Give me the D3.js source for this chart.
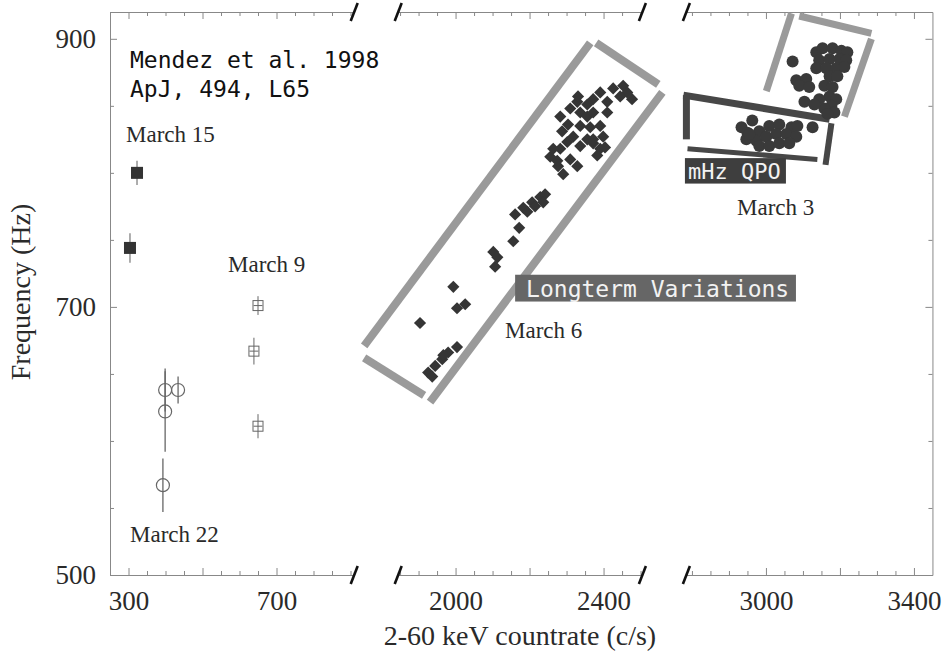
<!DOCTYPE html>
<html>
<head>
<meta charset="utf-8">
<script src="https://cdn.jsdelivr.net/npm/d3@7"></script>
<style>
  body { margin: 0; background: #fff; }
  svg { display: block; }
</style>
</head>
<body>
<script>
const WIDTH_SVG = 952;
const HEIGHT_SVG = 654;

// ---- data ----
// [countrate (c/s), frequency (Hz), freq error (Hz)]
const march15 = [[323, 800, 9], [304, 744, 11]];
const march22 = [[399, 638, 16], [399, 622, 30], [434, 638, 10], [393, 567, 20]];
// [countrate, frequency, freq error, rate error]
const march9 = [[650, 701, 7, 12], [639, 667, 10, 12], [650, 611, 9, 12]];

// [countrate, frequency]
const march6 = [
    [1904, 688], [1994, 715], [2004, 699], [2026, 702], [1926, 651], [1945, 656],
    [1964, 661], [1980, 666], [2004, 670], [1937, 648], [1967, 664], [2107, 730],
    [2102, 741], [2113, 737], [2156, 749], [2172, 759], [2161, 769], [2183, 774],
    [2207, 778], [2229, 782], [2242, 784], [2194, 771], [2215, 775], [2237, 778],
    [2256, 812], [2277, 805], [2291, 799], [2310, 810], [2329, 805], [2283, 818],
    [2302, 823], [2318, 827], [2337, 820], [2356, 825], [2372, 822], [2391, 818],
    [2383, 813], [2372, 825], [2288, 831], [2304, 836], [2283, 842], [2310, 848],
    [2329, 853], [2337, 845], [2356, 842], [2372, 855], [2391, 860], [2410, 853],
    [2410, 845], [2426, 863], [2453, 865], [2464, 860], [2477, 855], [2445, 857],
    [2337, 835], [2364, 834], [2391, 835], [2399, 827], [2331, 857], [2356, 851],
    [2372, 845], [2404, 819], [2264, 818], [2275, 809]
];

const march3 = [
    [3072, 883], [3126, 834], [3136, 890], [3153, 893], [3180, 893], [3204, 891],
    [3220, 890], [3144, 884], [3172, 885], [3199, 885], [3217, 884], [3136, 878],
    [3163, 878], [3190, 878], [3212, 879], [3172, 872], [3193, 872], [3082, 869],
    [3109, 870], [3090, 865], [3117, 864], [3158, 865], [3180, 864], [3172, 857],
    [3190, 855], [3177, 850], [3158, 848], [3185, 845], [3144, 855], [3166, 844],
    [3104, 853], [3131, 851],
    [2934, 834], [2963, 839], [2950, 830], [2982, 831], [3009, 835], [3036, 836],
    [3069, 834], [3085, 835], [2947, 825], [2974, 824], [3001, 827], [3028, 829],
    [3055, 829], [3082, 827], [2982, 820], [3009, 820], [3036, 822], [3063, 822],
    [2955, 829]
];

// broken x axis
const segDomains = [[250, 910], [1845, 2505], [2785, 3450]];
const segMajor = [[300, 500, 700], [2000, 2200, 2400], [3000, 3200, 3400]];
const segLabels = [[300, 700], [2000, 2400], [3000, 3400]];
const freqDomain = [500, 920];
const freqMajor = [500, 700, 900];

// annotation frames: [segment, [[rate, freq], [rate, freq]]]
const longtermFrame = [
    [1, [[1753, 671], [2364, 897]]],
    [1, [[2380, 897], [2548, 866]]],
    [1, [[2559, 860], [1931, 629]]],
    [1, [[1753, 662], [1915, 634]]]
];
const qpoUpperFrame = [
    [2, [[3069, 919], [3001, 861]]],
    [2, [[3090, 917], [3285, 904]]],
    [2, [[3285, 900], [3212, 842]]]
];
const qpoLowerFrame = [
    [2, [[2777, 858], [3172, 840]]],
    [2, [[2785, 858], [2785, 825]]],
    [2, [[3177, 837], [3161, 806]]],
    [2, [[2788, 818], [3139, 810]]]
];
// [segment, rate0, rate1, freq0, freq1, text]
const tagBoxes = [
    [1, 2161, 2920, 724, 704, "Longterm Variations"],
    [2, 2781, 3054, 811, 792, "mHz QPO"]
];

// ---- layout ----
const PLOT_LEFT = 110;
const PLOT_TOP = 12;
const PLOT_BOTTOM = 575;
const PX_PER_UNIT = 0.37;
const SEG_GAP = 44;
const AXIS_COLOR = "#888";
const TEXT_COLOR = "#2a2a2a";
const SERIF = "'Liberation Serif', 'Times New Roman', serif";
const MONO = "'DejaVu Sans Mono', monospace";

const svg = d3.select("body")
    .append("svg")
        .attr("width", WIDTH_SVG)
        .attr("height", HEIGHT_SVG)
        .attr("viewBox", `0 0 ${WIDTH_SVG} ${HEIGHT_SVG}`);

let xStart = PLOT_LEFT;
const xScales = segDomains.map(dom => {
    const w = (dom[1] - dom[0]) * PX_PER_UNIT;
    const s = d3.scaleLinear().domain(dom).range([xStart, xStart + w]);
    xStart += w + SEG_GAP;
    return s;
});
const PLOT_RIGHT = xScales[2].range()[1];

const y = d3.scaleLinear().domain(freqDomain).range([PLOT_BOTTOM, PLOT_TOP]);

function minorTicks(dom) {
    return d3.range(Math.ceil(dom[0] / 50) * 50, dom[1], 50);
}

function styleAxis(g) {
    g.selectAll("path, line").attr("stroke", AXIS_COLOR).attr("stroke-width", 1);
    g.attr("font-family", SERIF).attr("font-size", 27);
    g.selectAll("text").attr("fill", TEXT_COLOR);
}

// ---- x axes (bottom + top per segment) ----
xScales.forEach((sx, i) => {
    const dom = segDomains[i];
    const minor = minorTicks(dom).filter(v => !segMajor[i].includes(v));

    [[d3.axisBottom, PLOT_BOTTOM], [d3.axisTop, PLOT_TOP]].forEach(([axisFn, yPos]) => {
        svg.append("g")
            .attr("transform", `translate(0,${yPos})`)
            .call(axisFn(sx).tickValues(minor).tickSize(-4).tickSizeOuter(0).tickFormat(""))
            .call(styleAxis);
        svg.append("g")
            .attr("transform", `translate(0,${yPos})`)
            .call(axisFn(sx).tickValues(segMajor[i]).tickSize(-7).tickSizeOuter(0).tickFormat(""))
            .call(g => g.select(".domain").remove())
            .call(styleAxis);
    });

    svg.append("g")
        .attr("transform", `translate(0,${PLOT_BOTTOM})`)
        .call(d3.axisBottom(sx).tickValues(segLabels[i]).tickSize(0).tickPadding(16).tickFormat(d3.format("d")))
        .call(g => g.select(".domain").remove())
        .call(styleAxis);
});

// ---- y axes ----
const yMinor = d3.range(550, 920, 50).filter(v => !freqMajor.includes(v));
[[d3.axisLeft, PLOT_LEFT], [d3.axisRight, PLOT_RIGHT]].forEach(([axisFn, xPos]) => {
    svg.append("g")
        .attr("transform", `translate(${xPos},0)`)
        .call(axisFn(y).tickValues(yMinor).tickSize(-4).tickSizeOuter(0).tickFormat(""))
        .call(styleAxis);
    svg.append("g")
        .attr("transform", `translate(${xPos},0)`)
        .call(axisFn(y).tickValues(freqMajor).tickSize(-7).tickSizeOuter(0).tickFormat(""))
        .call(g => g.select(".domain").remove())
        .call(styleAxis);
});
svg.append("g")
    .attr("transform", `translate(${PLOT_LEFT},0)`)
    .call(d3.axisLeft(y).tickValues(freqMajor).tickSize(0).tickPadding(14).tickFormat(d3.format("d")))
    .call(g => g.select(".domain").remove())
    .call(styleAxis);

// break marks
xScales.forEach((sx, i) => {
    const ends = [];
    if (i > 0) ends.push(sx.range()[0]);
    if (i < xScales.length - 1) ends.push(sx.range()[1]);
    ends.forEach(xb => {
        [PLOT_TOP, PLOT_BOTTOM].forEach(yb => {
            svg.append("line")
                .attr("x1", xb - 3.5).attr("y1", yb + 9)
                .attr("x2", xb + 3.5).attr("y2", yb - 9)
                .attr("stroke", "#111")
                .attr("stroke-width", 2.6);
        });
    });
});

// ---- annotation frames ----
function drawFrame(frame, color, widths) {
    frame.forEach((d, k) => {
        const sx = xScales[d[0]];
        svg.append("line")
            .attr("x1", sx(d[1][0][0])).attr("y1", y(d[1][0][1]))
            .attr("x2", sx(d[1][1][0])).attr("y2", y(d[1][1][1]))
            .attr("stroke", color)
            .attr("stroke-width", widths[k]);
    });
}
drawFrame(longtermFrame, "#9a9a9a", [8, 8, 8, 8]);
drawFrame(qpoUpperFrame, "#9a9a9a", [7, 7, 7]);
drawFrame(qpoLowerFrame, "#474747", [7, 7, 6, 5]);

// ---- data marks ----
const s1 = xScales[0], s2 = xScales[1], s3 = xScales[2];

// March 15: filled squares
svg.selectAll(".m15err").data(march15).enter().append("line")
    .attr("x1", d => s1(d[0])).attr("x2", d => s1(d[0]))
    .attr("y1", d => y(d[1] - d[2])).attr("y2", d => y(d[1] + d[2]))
    .attr("stroke", "#777").attr("stroke-width", 1.2);
svg.selectAll(".m15").data(march15).enter().append("rect")
    .attr("x", d => s1(d[0]) - 6).attr("y", d => y(d[1]) - 6)
    .attr("width", 12).attr("height", 12)
    .attr("fill", "#333");

// March 9: open squares with error cross
svg.selectAll(".m9").data(march9).enter().append("rect")
    .attr("x", d => s1(d[0]) - 5).attr("y", d => y(d[1]) - 5)
    .attr("width", 10).attr("height", 10)
    .attr("fill", "#fff").attr("stroke", "#666").attr("stroke-width", 1);
svg.selectAll(".m9err").data(march9).enter().append("line")
    .attr("x1", d => s1(d[0])).attr("x2", d => s1(d[0]))
    .attr("y1", d => y(d[1] - d[2])).attr("y2", d => y(d[1] + d[2]))
    .attr("stroke", "#666").attr("stroke-width", 1);
svg.selectAll(".m9xerr").data(march9).enter().append("line")
    .attr("x1", d => s1(d[0] - d[3])).attr("x2", d => s1(d[0] + d[3]))
    .attr("y1", d => y(d[1])).attr("y2", d => y(d[1]))
    .attr("stroke", "#666").attr("stroke-width", 1);

// March 22: open circles
svg.selectAll(".m22err").data(march22).enter().append("line")
    .attr("x1", d => s1(d[0])).attr("x2", d => s1(d[0]))
    .attr("y1", d => y(d[1] - d[2])).attr("y2", d => y(d[1] + d[2]))
    .attr("stroke", "#666").attr("stroke-width", 1.3);
svg.selectAll(".m22").data(march22).enter().append("circle")
    .attr("cx", d => s1(d[0])).attr("cy", d => y(d[1]))
    .attr("r", 6.5)
    .attr("fill", "none").attr("stroke", "#666").attr("stroke-width", 1.2);

// March 6: filled diamonds
const diamond = d3.symbol().type(d3.symbolSquare).size(74)();
svg.selectAll(".m6").data(march6).enter().append("path")
    .attr("d", diamond)
    .attr("transform", d => `translate(${s2(d[0])},${y(d[1])}) rotate(45)`)
    .attr("fill", "#353535");

// March 3: filled circles
svg.selectAll(".m3").data(march3).enter().append("circle")
    .attr("cx", d => s3(d[0])).attr("cy", d => y(d[1]))
    .attr("r", 6)
    .attr("fill", "#3a3a3a");

// ---- tag boxes ----
tagBoxes.forEach(d => {
    const sx = xScales[d[0]];
    const x0 = sx(d[1]), x1 = sx(d[2]), y0 = y(d[3]), y1 = y(d[4]);
    svg.append("rect")
        .attr("x", x0).attr("y", y0)
        .attr("width", x1 - x0).attr("height", y1 - y0)
        .attr("fill", d[5] === "mHz QPO" ? "#3e3e3e" : "#666");
    svg.append("text")
        .attr("x", x0 + (d[5] === "mHz QPO" ? 3 : 11))
        .attr("y", y1 - 5)
        .attr("font-family", MONO)
        .attr("font-size", d[5] === "mHz QPO" ? 22 : 23)
        .attr("fill", "#f2f2f2")
        .text(d[5]);
});

// ---- text labels ----
function label(txt, x, yPos, size, family, color) {
    svg.append("text")
        .attr("x", x).attr("y", yPos)
        .attr("font-family", family)
        .attr("font-size", size)
        .attr("fill", color || TEXT_COLOR)
        .text(txt);
}
label("Mendez et al. 1998", 130, 68, 23, MONO, "#111");
label("ApJ, 494, L65", 130, 97, 23, MONO, "#111");
label("March 15", 126, 142, 23, SERIF);
label("March 9", 228, 272, 23, SERIF);
label("March 22", 130, 542, 23, SERIF);
label("March 6", 505, 338, 23, SERIF);
label("March 3", 737, 215, 23, SERIF);

svg.append("text")
    .attr("x", 520).attr("y", 645)
    .attr("text-anchor", "middle")
    .attr("font-family", SERIF).attr("font-size", 28)
    .attr("fill", TEXT_COLOR)
    .text("2-60 keV countrate (c/s)");

svg.append("text")
    .attr("transform", `translate(30,292) rotate(-90)`)
    .attr("text-anchor", "middle")
    .attr("font-family", SERIF).attr("font-size", 28)
    .attr("fill", TEXT_COLOR)
    .text("Frequency (Hz)");
</script>
</body>
</html>
